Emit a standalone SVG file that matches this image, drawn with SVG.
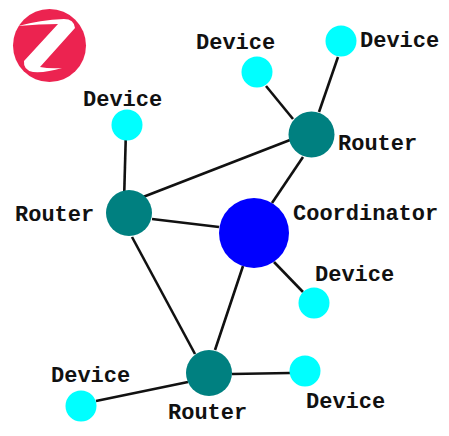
<svg xmlns="http://www.w3.org/2000/svg" width="449" height="436" viewBox="0 0 449 436">
<style>
.t{font-family:"Liberation Mono",monospace;font-size:22px;font-weight:bold;fill:#111}
.d{fill:#00ffff}.r{fill:#008080}.c{fill:#0000ff}
.l{stroke:#111;stroke-width:2.6;fill:none}
</style>
<rect width="449" height="436" fill="#fff"/>
<g id="logo">
<circle cx="49.500" cy="45.500" r="36.500" fill="#ec2350"/>
<path d="M18 26 Q40 20 64 19 Q74 19 75 28 L40 67 Q50 69 62 68 Q46 73 33 72 Q23 70 24 61 L58 24 Q40 24 18 26 Z" fill="#fff"/>
</g>
<g id="connectors" class="l">
<line x1="266" y1="86" x2="293" y2="119"/>
<line x1="338" y1="57" x2="319" y2="112"/>
<line x1="290" y1="140" x2="143" y2="197"/>
<line x1="303" y1="157" x2="272" y2="203"/>
<line x1="125.700" y1="140" x2="124.300" y2="191"/>
<line x1="152" y1="219" x2="219" y2="227"/>
<line x1="132" y1="237" x2="195" y2="354"/>
<line x1="243" y1="266" x2="215" y2="350"/>
<line x1="274" y1="262" x2="303" y2="292"/>
<line x1="232" y1="374" x2="290" y2="373"/>
<line x1="96" y1="401" x2="188" y2="382"/>
</g>
<g id="device1"><circle class="d" cx="257" cy="72" r="15.500"/><text class="t" x="196" y="49">Device</text></g>
<g id="device2"><circle class="d" cx="341" cy="41" r="15.500"/><text class="t" x="360" y="47">Device</text></g>
<g id="device3"><circle class="d" cx="127" cy="125" r="15.500"/><text class="t" x="83" y="106">Device</text></g>
<g id="device4"><circle class="d" cx="314" cy="303" r="15.500"/><text class="t" x="315" y="281">Device</text></g>
<g id="device5"><circle class="d" cx="305" cy="371" r="15.500"/><text class="t" x="306" y="408">Device</text></g>
<g id="device6"><circle class="d" cx="81" cy="406" r="15.500"/><text class="t" x="51" y="382">Device</text></g>
<g id="router1"><circle class="r" cx="311.500" cy="134.500" r="23"/><text class="t" x="338" y="150">Router</text></g>
<g id="router2"><circle class="r" cx="129" cy="213" r="23"/><text class="t" x="15" y="221">Router</text></g>
<g id="router3"><circle class="r" cx="209" cy="373" r="23"/><text class="t" x="168" y="419">Router</text></g>
<g id="coordinator"><circle class="c" cx="254" cy="233" r="35"/><text class="t" x="293" y="220">Coordinator</text></g>
</svg>
